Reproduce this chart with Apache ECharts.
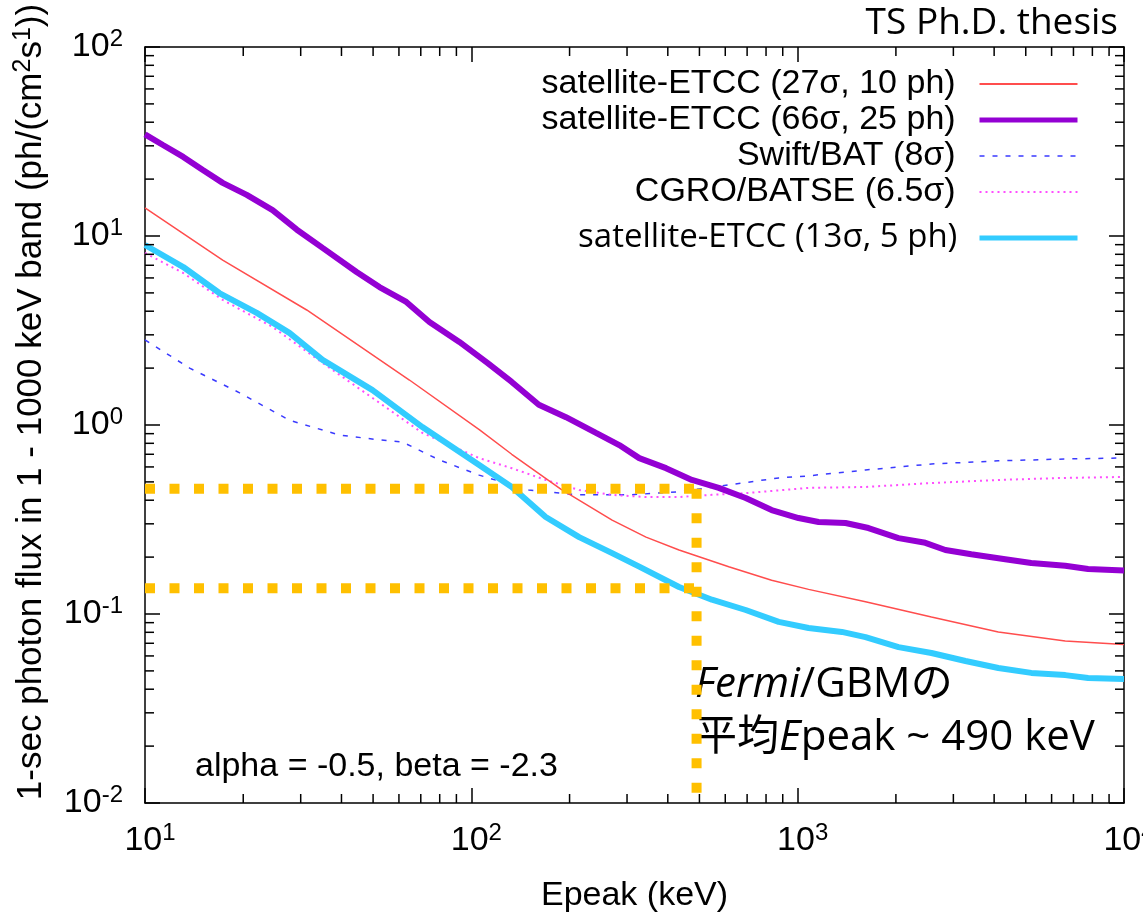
<!DOCTYPE html>
<html>
<head>
<meta charset="utf-8">
<script src="https://cdn.jsdelivr.net/npm/echarts@6.0.0/dist/echarts.min.js"></script>
<style>
  html, body { margin: 0; padding: 0; background: #fff; }
  #chart { width: 1143px; height: 923px; }
</style>
</head>
<body>
<div id="chart"></div>
<script>
// ---- Sensitivity curves: 1-sec photon flux (1-1000 keV) vs. Epeak ----

// satellite-ETCC (27σ, 10 ph)
const etcc10E = [10, 17.3, 31.3, 64.6, 106, 133, 188, 270, 343, 433, 615, 832, 1080, 1614, 2570, 4120, 6607, 10000];
const etcc10Flux = [14.1, 7.46, 4.06, 1.73, 0.942, 0.70, 0.458, 0.314, 0.255, 0.218, 0.178, 0.151, 0.135, 0.116, 0.0964, 0.0804, 0.0719, 0.0690];

// satellite-ETCC (66σ, 25 ph)
const etcc25E = [10, 11.35, 13.1, 15.0, 17.3, 20.5, 24.6, 29.2, 35.0, 44.5, 52.3, 63.2, 74.4, 91.9, 112, 133, 161, 195, 241, 284, 327, 395, 474, 573, 693, 832, 1006, 1159, 1402, 1648, 2037, 2462, 2836, 3404, 4325, 5198, 6607, 7763, 10000];
const etcc25Flux = [34.5, 30.3, 26.2, 22.4, 19.1, 16.5, 13.7, 10.8, 8.65, 6.45, 5.37, 4.48, 3.51, 2.75, 2.13, 1.69, 1.28, 1.10, 0.908, 0.783, 0.668, 0.591, 0.512, 0.465, 0.411, 0.355, 0.322, 0.307, 0.303, 0.285, 0.252, 0.238, 0.218, 0.207, 0.195, 0.186, 0.180, 0.173, 0.170];

// Swift/BAT (8σ)
const batE = [10, 13.7, 19.5, 27.7, 39.4, 52.3, 61.5, 79.8, 105.7, 150, 214, 304, 433, 615, 875, 1065, 1614, 2570, 4120, 6607, 10000];
const batFlux = [2.82, 2.00, 1.48, 1.06, 0.885, 0.834, 0.813, 0.653, 0.543, 0.453, 0.427, 0.427, 0.443, 0.482, 0.525, 0.537, 0.578, 0.622, 0.646, 0.661, 0.669];

// CGRO/BATSE (6.5σ)
const batseE = [10, 13.1, 17.3, 24.6, 35.0, 49.8, 70.8, 105.7, 133, 169, 214, 270, 343, 433, 546, 693, 1080, 1614, 2570, 4120, 6607, 10000];
const batseFlux = [8.13, 6.37, 4.59, 3.30, 2.13, 1.39, 0.908, 0.668, 0.591, 0.512, 0.453, 0.427, 0.416, 0.416, 0.427, 0.436, 0.465, 0.470, 0.493, 0.512, 0.525, 0.531];

// satellite-ETCC (13σ, 5 ph)
const etcc5E = [10, 13.1, 16.9, 22.0, 27.7, 35.0, 49.8, 70.8, 105.7, 133, 169, 214, 270, 327, 433, 546, 693, 875, 1080, 1366, 1614, 2037, 2570, 3268, 4120, 5198, 6607, 7763, 10000];
const etcc5Flux = [8.96, 6.85, 4.99, 3.92, 3.07, 2.21, 1.53, 0.975, 0.614, 0.470, 0.326, 0.255, 0.210, 0.178, 0.139, 0.119, 0.105, 0.0908, 0.0843, 0.0804, 0.0755, 0.0668, 0.0622, 0.0564, 0.0518, 0.0488, 0.0475, 0.0458, 0.0453];

const fermiMeanEpeak = 490;
const fermiFluxLevels = [0.46, 0.137];
const guideStartE = 10;
const guideBottomFlux = 0.01;

// Axis ranges (decades)
const xRange = [10, 10000];
const yRange = [0.01, 100];

const seriesNames = {
  etcc10: 'satellite-ETCC (27σ, 10 ph)',
  etcc25: 'satellite-ETCC (66σ, 25 ph)',
  bat: 'Swift/BAT (8σ)',
  batse: 'CGRO/BATSE (6.5σ)',
  etcc5: 'satellite-ETCC (13σ, 5 ph)'
};

const SANS = '"Liberation Sans", Arial, Helvetica, sans-serif';
const HUMAN = '"Open Sans", "Noto Sans CJK JP", sans-serif';
const JP = '"Open Sans", "Noto Sans CJK JP", sans-serif';

function pairs(xs, ys) { return xs.map((x, i) => [x, ys[i]]); }

// minor tick positions 2..9 within each decade
function minorTicks(lo, hi) {
  const out = [];
  for (let d = lo; d < hi * 0.999; d *= 10) {
    for (let k = 2; k <= 9; k++) out.push(Number((d * k).toPrecision(3)));
  }
  return out;
}
const xMinor = minorTicks(xRange[0], xRange[1]);
const yMinor = minorTicks(yRange[0], yRange[1]);

const powLabel = v => '{b|10}{s|' + Math.round(Math.log10(v)) + '}';
const labelRich = {
  b: { fontFamily: SANS, fontSize: 34, lineHeight: 40, color: '#000' },
  s: { fontFamily: SANS, fontSize: 24, lineHeight: 24, color: '#000', verticalAlign: 'top' }
};

const frameLine = { show: true, lineStyle: { color: '#000', width: 1.5 } };
const majorTick = { show: true, inside: true, length: 15, lineStyle: { color: '#000', width: 1.5 } };

const chart = echarts.init(document.getElementById('chart'), null, { renderer: 'canvas' });

const guideStyle = { color: '#FFC000', width: 10, type: [10, 14.5], cap: 'butt' };

function minorTickSeries(values, isX) {
  return {
    type: 'custom',
    name: isX ? 'x-minor' : 'y-minor',
    silent: true,
    clip: false,
    z: 5,
    xAxisIndex: 0, yAxisIndex: 0,
    data: values.map(v => isX ? [v, 1] : [100, v]),
    renderItem: (params, api) => {
      const cs = params.coordSys;
      const L = 9;
      const st = { stroke: '#000', lineWidth: 1.5 };
      if (isX) {
        const px = api.coord([api.value(0), 1])[0];
        const yb = cs.y + cs.height, yt = cs.y;
        return { type: 'group', children: [
          { type: 'line', shape: { x1: px, y1: yb, x2: px, y2: yb - L }, style: st },
          { type: 'line', shape: { x1: px, y1: yt, x2: px, y2: yt + L }, style: st }
        ] };
      }
      const py = api.coord([100, api.value(1)])[1];
      const xl = cs.x, xr = cs.x + cs.width;
      return { type: 'group', children: [
        { type: 'line', shape: { x1: xl, y1: py, x2: xl + L, y2: py }, style: st },
        { type: 'line', shape: { x1: xr, y1: py, x2: xr - L, y2: py }, style: st }
      ] };
    }
  };
}

const option = {
  animation: false,
  backgroundColor: '#fff',
  grid: { left: 145, right: 19, top: 47, bottom: 120, containLabel: false, outerBoundsMode: 'none' },
  xAxis: [
    {
      type: 'log', logBase: 10, min: xRange[0], max: xRange[1], position: 'bottom',
      name: 'Epeak (keV)', nameLocation: 'middle', nameGap: 76,
      nameTextStyle: { fontFamily: SANS, fontSize: 34, color: '#000' },
      axisLine: frameLine, axisTick: majorTick,
      axisLabel: { formatter: powLabel, margin: 18, rich: labelRich, padding: [0, 0, 0, 10],
                   showMinLabel: true, showMaxLabel: true, hideOverlap: false },
      splitLine: { show: false }
    },
    {
      type: 'log', logBase: 10, min: xRange[0], max: xRange[1], position: 'top',
      axisLine: frameLine, axisTick: majorTick, axisLabel: { show: false }, splitLine: { show: false }
    }
  ],
  yAxis: [
    {
      type: 'log', logBase: 10, min: yRange[0], max: yRange[1], position: 'left',
      axisLine: frameLine, axisTick: majorTick,
      axisLabel: { formatter: powLabel, margin: 22, rich: labelRich,
                   showMinLabel: true, showMaxLabel: true },
      splitLine: { show: false }
    },
    {
      type: 'log', logBase: 10, min: yRange[0], max: yRange[1], position: 'right',
      axisLine: frameLine, axisTick: majorTick, axisLabel: { show: false }, splitLine: { show: false }
    }
  ],
  legend: [
    {
      orient: 'vertical', right: 58, top: 61, align: 'right',
      itemWidth: 98, itemHeight: 14, itemGap: 0, selectedMode: false,
      itemStyle: { opacity: 0 },
      formatter: n => n + '  ',
      textStyle: { fontFamily: SANS, fontSize: 34, lineHeight: 36, color: '#000' },
      data: [
        { name: seriesNames.etcc10, lineStyle: { width: 2 } },
        { name: seriesNames.etcc25, lineStyle: { width: 5 } },
        { name: seriesNames.bat, lineStyle: { width: 1.5 } },
        { name: seriesNames.batse, lineStyle: { width: 2 } }
      ]
    },
    {
      orient: 'vertical', right: 58, top: 213, align: 'right',
      itemWidth: 98, itemHeight: 14, itemGap: 0, selectedMode: false,
      itemStyle: { opacity: 0 },
      formatter: n => n + '  ',
      textStyle: { fontFamily: HUMAN, fontSize: 33, lineHeight: 40, color: '#000' },
      data: [ { name: seriesNames.etcc5, lineStyle: { width: 5 } } ]
    }
  ],
  series: [
    {
      type: 'line', name: seriesNames.bat, data: pairs(batE, batFlux),
      symbol: 'none', showSymbol: false, z: 2,
      lineStyle: { color: '#3a3aff', width: 1.5, type: [5, 8] }, itemStyle: { color: '#3a3aff' }
    },
    {
      type: 'line', name: seriesNames.batse, data: pairs(batseE, batseFlux),
      symbol: 'none', showSymbol: false, z: 2,
      lineStyle: { color: '#ff4dff', width: 2, type: [2, 4] }, itemStyle: { color: '#ff4dff' }
    },
    {
      type: 'line', name: seriesNames.etcc10, data: pairs(etcc10E, etcc10Flux),
      symbol: 'none', showSymbol: false, z: 2,
      lineStyle: { color: '#ff4d4d', width: 1.5 }, itemStyle: { color: '#ff4d4d' }
    },
    {
      type: 'line', name: seriesNames.etcc5, data: pairs(etcc5E, etcc5Flux),
      symbol: 'none', showSymbol: false, z: 2,
      lineStyle: { color: '#33ccff', width: 6 }, itemStyle: { color: '#33ccff' }
    },
    {
      type: 'line', name: seriesNames.etcc25, data: pairs(etcc25E, etcc25Flux),
      symbol: 'none', showSymbol: false, z: 2,
      lineStyle: { color: '#9400d3', width: 6 }, itemStyle: { color: '#9400d3' }
    },
    // Fermi/GBM guides: flux levels at the mean Epeak
    ...fermiFluxLevels.map((f, i) => ({
      type: 'line', name: 'fermi-level-' + i, silent: true, z: 3,
      data: [[guideStartE, f], [fermiMeanEpeak, f]],
      symbol: 'none', showSymbol: false, lineStyle: guideStyle
    })),
    {
      type: 'line', name: 'fermi-epeak', silent: true, z: 3,
      data: [[fermiMeanEpeak, fermiFluxLevels[0]], [fermiMeanEpeak, guideBottomFlux]],
      symbol: 'none', showSymbol: false, lineStyle: guideStyle
    },
    minorTickSeries(xMinor, true),
    minorTickSeries(yMinor, false)
  ],
  graphic: [
    {
      type: 'text', x: 31, y: 402, rotation: Math.PI / 2, silent: true,
      style: {
        text: '{n|1-sec photon flux in 1 - 1000 keV band (ph/(cm}{s|2}{n|s}{s|1}{n|))}',
        align: 'center', verticalAlign: 'middle', textAlign: 'center', textVerticalAlign: 'middle',
        rich: {
          n: { fontFamily: SANS, fontSize: 35, lineHeight: 40, fill: '#000', color: '#000' },
          s: { fontFamily: SANS, fontSize: 25, lineHeight: 25, fill: '#000', color: '#000', verticalAlign: 'top' }
        }
      }
    },
    {
      type: 'text', x: 1118, y: 23, silent: true,
      style: { text: 'TS Ph.D. thesis', font: '37px "Open Sans", sans-serif', fill: '#000',
               align: 'right', verticalAlign: 'middle', textAlign: 'right', textVerticalAlign: 'middle' }
    },
    {
      type: 'text', x: 195, y: 767, silent: true,
      style: { text: 'alpha = -0.5, beta = -2.3', font: '34px "Liberation Sans", Arial, sans-serif', fill: '#000',
               align: 'left', verticalAlign: 'middle', textAlign: 'left', textVerticalAlign: 'middle' }
    },
    {
      type: 'text', x: 695, y: 685, silent: true,
      style: {
        text: '{i|Fermi}{n|/GBMの}',
        align: 'left', verticalAlign: 'middle', textAlign: 'left', textVerticalAlign: 'middle',
        rich: {
          i: { fontFamily: JP, fontSize: 42, fontStyle: 'italic', fill: '#000', color: '#000' },
          n: { fontFamily: JP, fontSize: 42, fill: '#000', color: '#000' }
        }
      }
    },
    {
      type: 'text', x: 695, y: 738, silent: true,
      style: {
        text: '{n|平均}{i|E}{n|peak ~ 490 keV}',
        align: 'left', verticalAlign: 'middle', textAlign: 'left', textVerticalAlign: 'middle',
        rich: {
          i: { fontFamily: JP, fontSize: 42, fontStyle: 'italic', fill: '#000', color: '#000' },
          n: { fontFamily: JP, fontSize: 42, fill: '#000', color: '#000' }
        }
      }
    }
  ]
};

chart.setOption(option);
</script>
</body>
</html>
